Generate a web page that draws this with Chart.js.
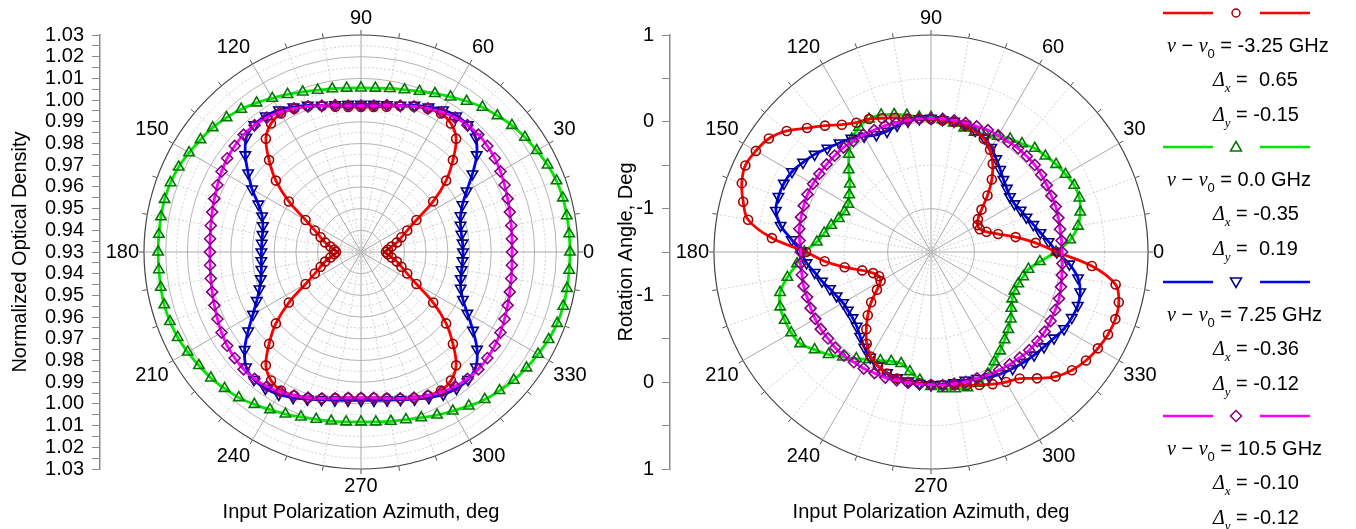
<!DOCTYPE html>
<html>
<head>
<meta charset="utf-8">
<script src="https://cdn.jsdelivr.net/npm/chart.js@4.4.1/dist/chart.umd.min.js"></script>
<style>
  body { margin: 0; background: #fff; }
  #wrap { position: relative; width: 1356px; height: 529px; overflow: hidden; }
  canvas { position: absolute; top: 0; }
  .row { position: absolute; font: 20px Arial, "Liberation Sans", sans-serif; line-height: 24px; white-space: nowrap; color: #000; }
  .g { font-family: "Liberation Serif", "Times New Roman", serif; font-style: italic; }
  sub { font-size: 13px; vertical-align: -6px; line-height: 0; }
  .key { position: absolute; left: 1163px; }
</style>
</head>
<body>
<div id="wrap">
  <canvas id="polarL" width="580" height="529" style="left:71px"></canvas>
  <canvas id="polarR" width="580" height="529" style="left:641px"></canvas>
  <canvas id="axisL" width="120" height="529" style="left:0px"></canvas>
  <canvas id="axisR" width="120" height="529" style="left:570px"></canvas>
  <div id="legend"></div>
</div>
<script>
Chart.defaults.font.family = 'Arial, "Liberation Sans", sans-serif';
Chart.defaults.color = '#000';

// Input polarization azimuth, deg
const azimuth = [0, 5, 10, 15, 20, 25, 30, 35, 40, 45, 50, 55, 60, 65, 70, 75, 80, 85,
    90, 95, 100, 105, 110, 115, 120, 125, 130, 135, 140, 145, 150, 155, 160, 165, 170, 175,
    180, 185, 190, 195, 200, 205, 210, 215, 220, 225, 230, 235, 240, 245, 250, 255, 260, 265,
    270, 275, 280, 285, 290, 295, 300, 305, 310, 315, 320, 325, 330, 335, 340, 345, 350, 355];

// legend text
const detuning = ['-3.25', '0.0', '7.25', '10.5'];
const deltaX = ['0.65', '-0.35', '-0.36', '-0.10'];
const deltaY = ['-0.15', '0.19', '-0.12', '-0.12'];

// radial ranges
const odMin = 0.93, odMax = 1.03;
const raMin = -1.5, raMax = 1;

// Normalized optical density (left)
const odRed = [
    0.9415, 0.9424, 0.9443, 0.9471, 0.9498, 0.9535, 0.9595, 0.9706, 0.9812, 0.9899, 0.9982, 1.0023, 1.0037, 1.0028, 1.0014, 0.9996, 0.9980, 0.9971,
    0.9968, 0.9971, 0.9980, 0.9996, 1.0014, 1.0028, 1.0037, 1.0023, 0.9982, 0.9899, 0.9812, 0.9706, 0.9595, 0.9535, 0.9498, 0.9471, 0.9443, 0.9424,
    0.9415, 0.9424, 0.9443, 0.9471, 0.9498, 0.9535, 0.9595, 0.9706, 0.9812, 0.9899, 0.9982, 1.0023, 1.0037, 1.0030, 1.0016, 0.9999, 0.9984, 0.9975,
    0.9973, 0.9975, 0.9984, 0.9999, 1.0016, 1.0030, 1.0037, 1.0023, 0.9982, 0.9899, 0.9812, 0.9706, 0.9595, 0.9535, 0.9498, 0.9471, 0.9443, 0.9424];
const odGreen = [
    1.0263, 1.0263, 1.0263, 1.0263, 1.0259, 1.0249, 1.0235, 1.0222, 1.0208, 1.0189, 1.0171, 1.0148, 1.0125, 1.0106, 1.0088, 1.0074, 1.0065, 1.0058,
    1.0056, 1.0058, 1.0064, 1.0072, 1.0085, 1.0101, 1.0118, 1.0139, 1.0159, 1.0176, 1.0192, 1.0203, 1.0215, 1.0227, 1.0234, 1.0237, 1.0236, 1.0235,
    1.0235, 1.0235, 1.0237, 1.0239, 1.0237, 1.0232, 1.0222, 1.0212, 1.0203, 1.0189, 1.0176, 1.0157, 1.0139, 1.0124, 1.0109, 1.0098, 1.0091, 1.0086,
    1.0083, 1.0086, 1.0092, 1.0100, 1.0112, 1.0129, 1.0146, 1.0166, 1.0187, 1.0203, 1.0219, 1.0231, 1.0242, 1.0254, 1.0262, 1.0265, 1.0264, 1.0263];
const odBlue = [
    0.9770, 0.9770, 0.9770, 0.9775, 0.9788, 0.9816, 0.9862, 0.9927, 0.9996, 1.0047, 1.0065, 1.0065, 1.0056, 1.0037, 1.0019, 1.0000, 0.9989, 0.9982,
    0.9980, 0.9982, 0.9989, 1.0000, 1.0019, 1.0037, 1.0056, 1.0065, 1.0065, 1.0047, 0.9996, 0.9935, 0.9880, 0.9822, 0.9785, 0.9768, 0.9761, 0.9759,
    0.9759, 0.9761, 0.9766, 0.9778, 0.9798, 0.9830, 0.9875, 0.9935, 1.0000, 1.0049, 1.0068, 1.0068, 1.0058, 1.0040, 1.0022, 1.0004, 0.9993, 0.9986,
    0.9984, 0.9986, 0.9993, 1.0004, 1.0022, 1.0040, 1.0058, 1.0068, 1.0068, 1.0049, 0.9998, 0.9930, 0.9866, 0.9818, 0.9789, 0.9776, 0.9771, 0.9770];
const odMagenta = [
    0.9996, 0.9998, 1.0003, 1.0010, 1.0019, 1.0030, 1.0042, 1.0053, 1.0060, 1.0065, 1.0063, 1.0056, 1.0044, 1.0030, 1.0014, 0.9998, 0.9987, 0.9977,
    0.9975, 0.9977, 0.9987, 0.9998, 1.0014, 1.0030, 1.0044, 1.0056, 1.0063, 1.0065, 1.0060, 1.0053, 1.0042, 1.0030, 1.0019, 1.0010, 1.0003, 0.9998,
    0.9996, 0.9998, 1.0003, 1.0010, 1.0019, 1.0030, 1.0042, 1.0053, 1.0060, 1.0065, 1.0063, 1.0056, 1.0044, 1.0030, 1.0014, 0.9998, 0.9985, 0.9975,
    0.9972, 0.9975, 0.9985, 0.9998, 1.0014, 1.0030, 1.0044, 1.0056, 1.0063, 1.0065, 1.0060, 1.0053, 1.0042, 1.0030, 1.0019, 1.0010, 1.0003, 0.9998];

// Rotation angle, deg (right)
const raRed = [
    -0.05, -0.29, -0.51, -0.70, -0.82, -0.88, -0.88, -0.84, -0.74, -0.58, -0.41, -0.26, -0.14, -0.06, -0.02, 0.01, 0.02, 0.02,
    0.03, 0.04, 0.06, 0.10, 0.14, 0.19, 0.22, 0.29, 0.40, 0.52, 0.67, 0.78, 0.83, 0.86, 0.82, 0.74, 0.64, 0.34,
    -0.06, -0.27, -0.49, -0.68, -0.79, -0.84, -0.83, -0.74, -0.60, -0.47, -0.34, -0.21, -0.11, -0.05, -0.01, 0.01, 0.02, 0.02,
    0.03, 0.04, 0.06, 0.09, 0.13, 0.18, 0.23, 0.28, 0.40, 0.53, 0.62, 0.68, 0.72, 0.75, 0.76, 0.74, 0.66, 0.36];
const raGreen = [
    -0.06, 0.11, 0.22, 0.28, 0.32, 0.32, 0.29, 0.26, 0.22, 0.19, 0.13, 0.09, 0.04, -0.01, -0.03, -0.02, 0.01, 0.03,
    0.05, 0.06, 0.10, 0.14, 0.18, 0.19, 0.16, 0.09, -0.03, -0.16, -0.28, -0.35, -0.40, -0.40, -0.37, -0.31, -0.25, -0.18,
    -0.04, 0.05, 0.18, 0.30, 0.35, 0.36, 0.36, 0.34, 0.25, 0.17, 0.08, 0.00, -0.07, -0.12, -0.16, -0.17, -0.10, -0.02,
    0.05, 0.08, 0.10, 0.12, 0.11, 0.05, -0.04, -0.11, -0.18, -0.24, -0.30, -0.37, -0.42, -0.44, -0.43, -0.40, -0.36, -0.24];
const raBlue = [
    -0.05, -0.14, -0.22, -0.28, -0.33, -0.36, -0.39, -0.39, -0.36, -0.32, -0.26, -0.19, -0.11, -0.05, -0.01, 0.02, 0.03, 0.03,
    0.04, 0.04, 0.03, 0.01, -0.02, -0.01, 0.04, 0.10, 0.14, 0.19, 0.25, 0.30, 0.35, 0.37, 0.37, 0.35, 0.26, 0.11,
    0.00, -0.06, -0.14, -0.20, -0.26, -0.30, -0.33, -0.33, -0.32, -0.29, -0.23, -0.16, -0.10, -0.05, -0.02, 0.00, 0.01, 0.02,
    0.03, 0.03, 0.03, 0.03, 0.05, 0.09, 0.12, 0.14, 0.16, 0.18, 0.20, 0.23, 0.27, 0.29, 0.30, 0.28, 0.22, 0.10];
const raMagenta = [
    0.01, 0.01, 0.01, 0.02, 0.03, 0.03, 0.04, 0.05, 0.06, 0.06, 0.06, 0.05, 0.05, 0.05, 0.04, 0.04, 0.04, 0.04,
    0.04, 0.04, 0.04, 0.04, 0.05, 0.05, 0.06, 0.06, 0.07, 0.07, 0.07, 0.07, 0.07, 0.07, 0.06, 0.05, 0.04, 0.02,
    0.00, 0.01, 0.01, 0.02, 0.02, 0.03, 0.04, 0.05, 0.05, 0.06, 0.06, 0.05, 0.05, 0.04, 0.04, 0.03, 0.03, 0.03,
    0.03, 0.04, 0.04, 0.05, 0.05, 0.06, 0.07, 0.08, 0.09, 0.10, 0.10, 0.10, 0.09, 0.08, 0.07, 0.05, 0.03, 0.02];

const lineColors = ['#ff0000', '#00e600', '#0000ff', '#ff00ff'];
const markColors = ['#a00000', '#007800', '#000080', '#800080'];
const markStyles = ['circle', 'triangle', 'triangle', 'rectRot'];
const markRotation = [0, 0, 180, 0];
const markRadius = [4.5, 6, 6, 5.5];
const drawOrder = [1, 3, 2, 0];

// radar spokes run clockwise from the right, so walk the azimuths backwards
const n = azimuth.length;
const spokeIdx = azimuth.map((_, i) => (n - i) % n);
const spokes = spokeIdx.map(k => azimuth[k]);

// small ticks on the rim every 10 deg
const rimTicks = {
    id: 'rimTicks',
    afterDatasetsDraw(chart) {
        const s = chart.scales.r, ctx = chart.ctx;
        ctx.save();
        ctx.strokeStyle = '#555';
        ctx.lineWidth = 1;
        spokes.forEach((a, i) => {
            if (a % 10) return;
            const p = s.getPointPosition(i, s.drawingArea);
            const q = s.getPointPosition(i, s.drawingArea + 5);
            ctx.beginPath();
            ctx.moveTo(p.x, p.y);
            ctx.lineTo(q.x, q.y);
            ctx.stroke();
        });
        ctx.restore();
    }
};

function polarChart(id, series, rMin, rMax, step, isMajor) {
    return new Chart(document.getElementById(id), {
        type: 'radar',
        data: {
            labels: spokes,
            datasets: series.map((arr, s) => ({
                data: spokeIdx.map(k => arr[k]),
                borderColor: lineColors[s],
                borderWidth: 2.8,
                fill: false,
                tension: 0.35,
                pointStyle: markStyles[s],
                pointRotation: markRotation[s],
                pointRadius: markRadius[s],
                pointBorderColor: markColors[s],
                pointBackgroundColor: 'rgba(0,0,0,0)',
                pointBorderWidth: 1.6,
                order: drawOrder[s]
            }))
        },
        options: {
            responsive: false,
            animation: false,
            devicePixelRatio: 1,
            layout: { padding: { top: 6, left: 0, right: 0, bottom: 0 } },
            plugins: {
                legend: { display: false },
                tooltip: { enabled: false },
                title: {
                    display: true,
                    position: 'bottom',
                    text: 'Input Polarization Azimuth, deg',
                    color: '#000',
                    font: { size: 20, weight: 'normal' },
                    padding: { top: 1, bottom: 5 }
                }
            },
            scales: {
                r: {
                    min: rMin,
                    max: rMax,
                    startAngle: 90,
                    ticks: { display: false, stepSize: step },
                    grid: {
                        circular: true,
                        color: c => c.index === c.scale.ticks.length - 1 ? '#444' : (isMajor(c.tick.value) ? '#b4b4b4' : '#cfcfcf'),
                        lineWidth: c => c.index === c.scale.ticks.length - 1 ? 1.2 : 1
                    },
                    border: {
                        dash: c => (c.tick && !isMajor(c.tick.value)) ? [2, 2] : []
                    },
                    angleLines: {
                        color: c => spokes[c.index] % 30 === 0 ? '#a8a8a8' : '#cfcfcf',
                        lineWidth: c => spokes[c.index] % 10 === 0 ? 1 : 0,
                        borderDash: c => spokes[c.index] % 30 === 0 ? [] : [2, 2]
                    },
                    pointLabels: {
                        color: '#000',
                        font: { size: 20 },
                        padding: 5,
                        callback: a => a % 30 === 0 ? String(a) : ''
                    }
                }
            }
        },
        plugins: [rimTicks]
    });
}

const polarL = polarChart('polarL', [odRed, odGreen, odBlue, odMagenta], odMin, odMax, 0.005,
    v => Math.round(v * 1000) % 10 === 0);
const polarR = polarChart('polarR', [raRed, raGreen, raBlue, raMagenta], raMin, raMax, 0.5,
    v => Number.isInteger(v));

// straight radial axes beside each polar plot
function axisChart(id, polar, span, step, label, title, titlePad) {
    const r = polar.scales.r;
    return new Chart(document.getElementById(id), {
        type: 'scatter',
        data: { datasets: [] },
        options: {
            responsive: false,
            animation: false,
            devicePixelRatio: 1,
            layout: { padding: { top: r.yCenter - r.drawingArea, bottom: 529 - r.yCenter - r.drawingArea, left: 0, right: 0 } },
            plugins: { legend: { display: false }, tooltip: { enabled: false } },
            scales: {
                x: { display: false },
                y: {
                    min: -span,
                    max: span,
                    afterFit: s => { s.width = 100; },
                    ticks: { stepSize: step, autoSkip: false, padding: 8, color: '#000', font: { size: 20 }, callback: label },
                    grid: { drawOnChartArea: false, tickLength: 8, color: '#8a8a8a', tickColor: '#8a8a8a' },
                    border: { color: '#8a8a8a', width: 1.5 },
                    title: { display: true, text: title, color: '#000', font: { size: 20 }, padding: { top: titlePad, bottom: 0 } }
                }
            }
        }
    });
}

axisChart('axisL', polarL, odMax - odMin, 0.005, v => {
    const k = Math.round(Math.abs(v) * 1000);
    return k % 10 === 0 ? (odMin + k / 1000).toFixed(2) : '';
}, 'Normalized Optical Density', 8);

axisChart('axisR', polarR, raMax - raMin, 0.5, v => {
    const d = raMin + Math.abs(v);
    return (v !== 0 && Number.isInteger(d)) ? String(d) : '';
}, 'Rotation Angle, Deg', 44);

// legend
const symbols = [
    c => `<circle cx="73" cy="7" r="4" fill="none" stroke="${c}" stroke-width="1.5"/>`,
    c => `<polygon points="73,1.5 78.5,11 67.5,11" fill="none" stroke="${c}" stroke-width="1.5"/>`,
    c => `<polygon points="67.5,3 78.5,3 73,12.5" fill="none" stroke="${c}" stroke-width="1.5"/>`,
    c => `<polygon points="73,1.5 78.5,7 73,12.5 67.5,7" fill="none" stroke="${c}" stroke-width="1.5"/>`
];
const pad = s => s.startsWith('-') ? s : '&nbsp;' + s;
let html = '';
detuning.forEach((d, s) => {
    const y0 = 13 + s * 134.3;
    html += `<div class="key" style="top:${y0 - 7}px"><svg width="150" height="14">` +
        `<line x1="0" y1="7" x2="50" y2="7" stroke="${lineColors[s]}" stroke-width="2.5"/>` +
        symbols[s](markColors[s]) +
        `<line x1="97" y1="7" x2="147" y2="7" stroke="${lineColors[s]}" stroke-width="2.5"/></svg></div>`;
    html += `<div class="row" style="left:1167px;top:${y0 + 20}px"><span class="g">ν</span> − <span class="g">ν</span><sub>0</sub> = ${d} GHz</div>`;
    html += `<div class="row" style="left:1213px;top:${y0 + 54}px"><span class="g">Δ</span><sub class="g">x</sub> = ${pad(deltaX[s])}</div>`;
    html += `<div class="row" style="left:1213px;top:${y0 + 89}px"><span class="g">Δ</span><sub class="g">y</sub> = ${pad(deltaY[s])}</div>`;
});
document.getElementById('legend').innerHTML = html;
</script>
</body>
</html>
